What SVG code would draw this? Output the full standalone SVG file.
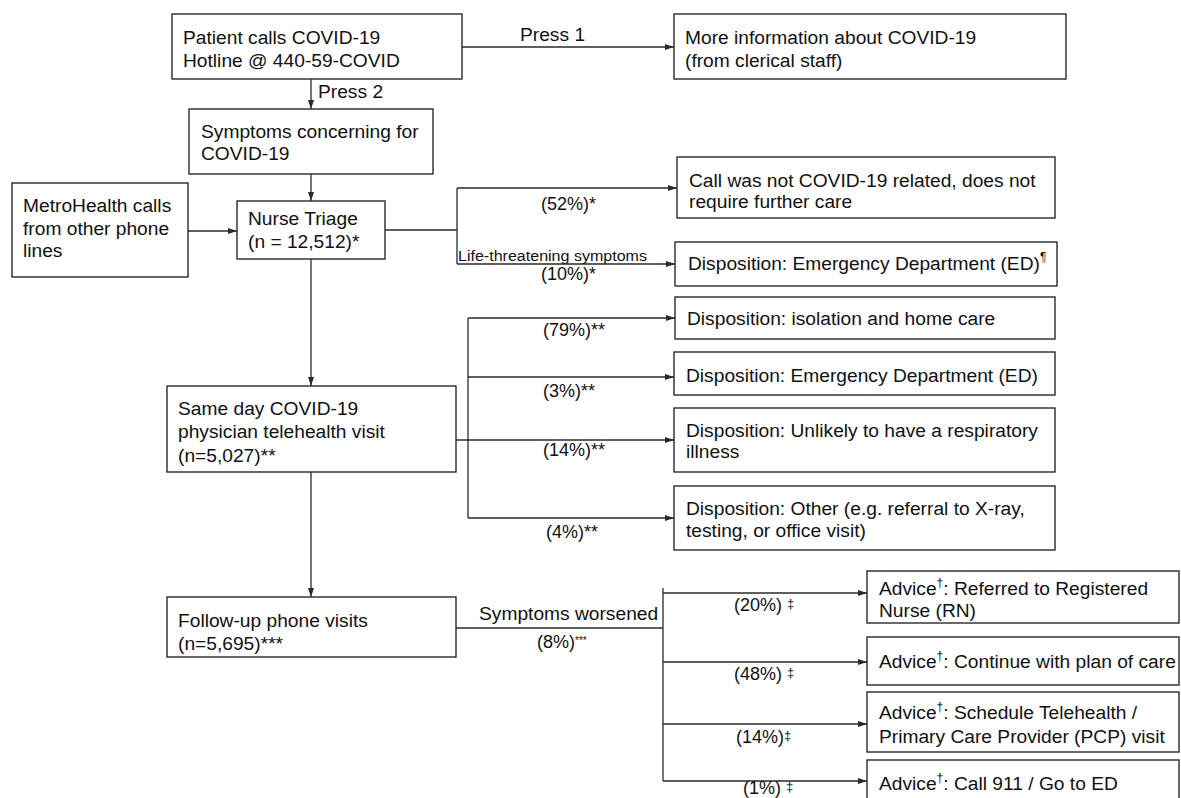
<svg xmlns="http://www.w3.org/2000/svg" width="1181" height="798" viewBox="0 0 1181 798">
<style>
.box{fill:#fff;stroke:#2a2a2a;stroke-width:1.4}
.ln{fill:none;stroke:#2a2a2a;stroke-width:1.3}
text{font-family:"Liberation Sans",Arial,sans-serif;font-size:19.2px;fill:#111}
.lab{font-size:18px}
.sm{font-size:15.5px}
</style>
<defs>
<marker id="ah" markerWidth="9" markerHeight="6" refX="9" refY="3" orient="auto" markerUnits="userSpaceOnUse"><path d="M0,0 L9,3 L0,6 z" fill="#2a2a2a"/></marker>
</defs>
<g id="connectors">
<path class="ln" d="M462,47 H674" marker-end="url(#ah)"/>
<path class="ln" d="M311,79 V109" marker-end="url(#ah)"/>
<path class="ln" d="M311,174 V201" marker-end="url(#ah)"/>
<path class="ln" d="M188,231 H237" marker-end="url(#ah)"/>
<path class="ln" d="M385,230 H457 M457,188 V264"/>
<path class="ln" d="M457,188 H677" marker-end="url(#ah)"/>
<path class="ln" d="M457,264 H675" marker-end="url(#ah)"/>
<path class="ln" d="M311,259 V386" marker-end="url(#ah)"/>
<path class="ln" d="M456,440 H468 M468,318 V518"/>
<path class="ln" d="M468,318 H675" marker-end="url(#ah)"/>
<path class="ln" d="M468,377 H674" marker-end="url(#ah)"/>
<path class="ln" d="M468,440 H674" marker-end="url(#ah)"/>
<path class="ln" d="M468,518 H674" marker-end="url(#ah)"/>
<path class="ln" d="M311,472 V597" marker-end="url(#ah)"/>
<path class="ln" d="M456,628 H663 M663,588 V781"/>
<path class="ln" d="M663,593 H867" marker-end="url(#ah)"/>
<path class="ln" d="M663,662 H867" marker-end="url(#ah)"/>
<path class="ln" d="M663,724 H867" marker-end="url(#ah)"/>
<path class="ln" d="M663,781 H867" marker-end="url(#ah)"/>
<text x="520" y="41">Press 1</text>
<text x="318" y="98">Press 2</text>
<text class="lab" x="541" y="210">(52%)*</text>
<text class="sm" x="458" y="261" textLength="189" lengthAdjust="spacingAndGlyphs">Life-threatening symptoms</text>
<text class="lab" x="541" y="280">(10%)*</text>
<text class="lab" x="543" y="336">(79%)**</text>
<text class="lab" x="543" y="397">(3%)**</text>
<text class="lab" x="543" y="456">(14%)**</text>
<text class="lab" x="546" y="538">(4%)**</text>
<text x="479" y="620">Symptoms worsened</text>
<text class="lab" x="537" y="648">(8%)<tspan font-size="10" dy="-4">***</tspan></text>
<text class="lab" x="734" y="611">(20%) <tspan font-size="13" dy="-3">‡</tspan></text>
<text class="lab" x="734" y="680">(48%) <tspan font-size="13" dy="-3">‡</tspan></text>
<text class="lab" x="736" y="743">(14%)<tspan font-size="13" dy="-3">‡</tspan></text>
<text class="lab" x="743" y="794">(1%) <tspan font-size="13" dy="-3">‡</tspan></text>
</g>
<g id="n-patient">
<rect class="box" x="172" y="14" width="290" height="65"/>
<text x="183" y="44">Patient calls COVID-19</text>
<text x="183" y="67">Hotline @ 440-59-COVID</text>
</g>
<g id="n-moreinfo">
<rect class="box" x="674" y="14" width="392" height="65"/>
<text x="685" y="44">More information about COVID-19</text>
<text x="685" y="67">(from clerical staff)</text>
</g>
<g id="n-symptoms">
<rect class="box" x="189" y="109" width="244" height="65"/>
<text x="201" y="138">Symptoms concerning for</text>
<text x="201" y="160">COVID-19</text>
</g>
<g id="n-metro">
<rect class="box" x="12" y="183" width="176" height="94"/>
<text x="23" y="212">MetroHealth calls</text>
<text x="23" y="235">from other phone</text>
<text x="23" y="257">lines</text>
</g>
<g id="n-nurse">
<rect class="box" x="237" y="201" width="148" height="58"/>
<text x="248" y="225">Nurse Triage</text>
<text x="248" y="248">(n = 12,512)*</text>
</g>
<g id="n-notcovid">
<rect class="box" x="677" y="157" width="378" height="61"/>
<text x="689" y="187">Call was not COVID-19 related, does not</text>
<text x="689" y="208">require further care</text>
</g>
<g id="n-ed1">
<rect class="box" x="675" y="242" width="382" height="44"/>
<text x="688" y="270">Disposition: Emergency Department (ED)<tspan font-size="12" dy="-9">¶</tspan></text>
</g>
<g id="n-sameday">
<rect class="box" x="167" y="386" width="289" height="86"/>
<text x="178" y="415">Same day COVID-19</text>
<text x="178" y="438">physician telehealth visit</text>
<text x="178" y="462">(n=5,027)**</text>
</g>
<g id="n-isolation">
<rect class="box" x="675" y="297" width="380" height="42"/>
<text x="687" y="325">Disposition: isolation and home care</text>
</g>
<g id="n-ed2">
<rect class="box" x="674" y="352" width="381" height="43"/>
<text x="686" y="382">Disposition: Emergency Department (ED)</text>
</g>
<g id="n-unlikely">
<rect class="box" x="674" y="408" width="381" height="64"/>
<text x="686" y="437">Disposition: Unlikely to have a respiratory</text>
<text x="686" y="458">illness</text>
</g>
<g id="n-other">
<rect class="box" x="674" y="486" width="381" height="64"/>
<text x="686" y="515">Disposition: Other (e.g. referral to X-ray,</text>
<text x="686" y="537">testing, or office visit)</text>
</g>
<g id="n-followup">
<rect class="box" x="167" y="597" width="289" height="60"/>
<text x="178" y="627">Follow-up phone visits</text>
<text x="178" y="650">(n=5,695)***</text>
</g>
<g id="n-rn">
<rect class="box" x="867" y="571" width="312" height="52"/>
<text x="879" y="595">Advice<tspan font-size="12" dy="-8">†</tspan><tspan dy="8">: Referred to Registered</tspan></text>
<text x="879" y="617">Nurse (RN)</text>
</g>
<g id="n-continue">
<rect class="box" x="867" y="637" width="312" height="48"/>
<text x="879" y="668">Advice<tspan font-size="12" dy="-8">†</tspan><tspan dy="8">: Continue with plan of care</tspan></text>
</g>
<g id="n-schedule">
<rect class="box" x="867" y="692" width="312" height="60"/>
<text x="879" y="719">Advice<tspan font-size="12" dy="-8">†</tspan><tspan dy="8">: Schedule Telehealth /</tspan></text>
<text x="879" y="743">Primary Care Provider (PCP) visit</text>
</g>
<g id="n-911">
<rect class="box" x="867" y="760" width="312" height="50"/>
<text x="879" y="790">Advice<tspan font-size="12" dy="-8">†</tspan><tspan dy="8">: Call 911 / Go to ED</tspan></text>
</g>
</svg>
